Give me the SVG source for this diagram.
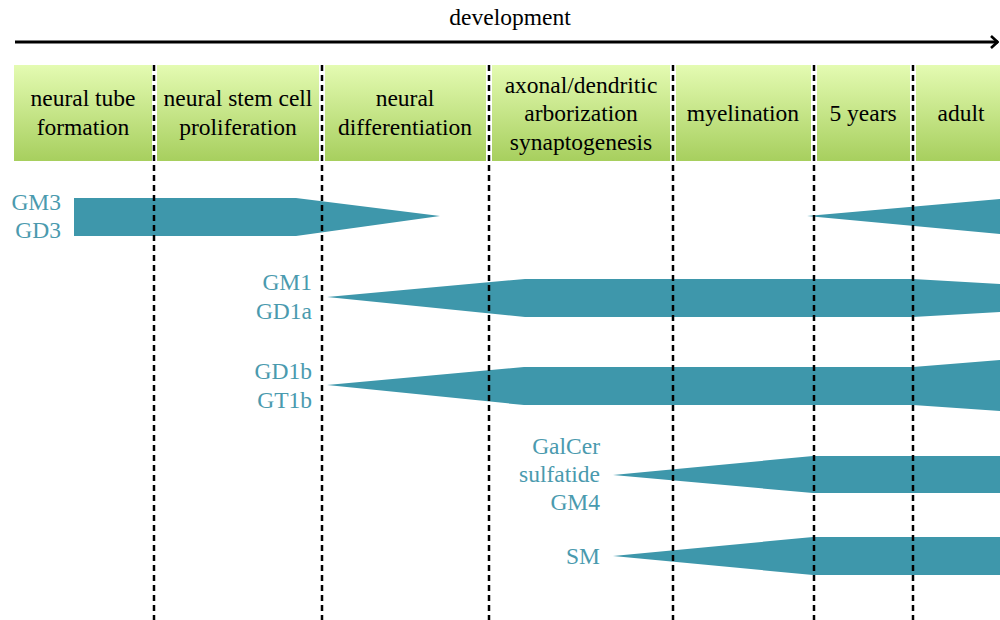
<svg xmlns="http://www.w3.org/2000/svg" width="1000" height="620" viewBox="0 0 1000 620" font-family="Liberation Serif, Times New Roman, serif" font-size="23.5">
<defs>
<linearGradient id="g" x1="0" y1="0" x2="0" y2="1">
<stop offset="0" stop-color="#e4fbb2"/>
<stop offset="1" stop-color="#a7cf5e"/>
</linearGradient>
<marker id="ah" viewBox="0 0 10 14" refX="9" refY="7" markerWidth="10" markerHeight="14" markerUnits="userSpaceOnUse" orient="auto">
<path d="M2 1 L8.5 7 L2 13" fill="none" stroke="#000" stroke-width="2.6"/>
</marker>
</defs>
<style>
.t{fill:#000;text-anchor:middle}
.l{fill:#4a9aae;text-anchor:end}
.cell{fill:url(#g)}
.dash{stroke:#000;stroke-width:2.5;stroke-dasharray:6 4;fill:none}
.bar{fill:#3e97ab}
</style>
<g id="timeline">
<line x1="15" y1="42" x2="998" y2="42" stroke="#000" stroke-width="3" marker-end="url(#ah)"/>
<text class="t" x="510" y="25">development</text>
</g>
<g id="stage-neural-tube">
<rect class="cell" x="14" y="65" width="138" height="96"/>
<text class="t" x="83" y="106">neural tube</text>
<text class="t" x="83" y="135">formation</text>
</g>
<g id="stage-stem-cell">
<rect class="cell" x="157" y="65" width="162" height="96"/>
<text class="t" x="238" y="106">neural stem cell</text>
<text class="t" x="238" y="135">proliferation</text>
</g>
<g id="stage-differentiation">
<rect class="cell" x="325" y="65" width="161" height="96"/>
<text class="t" x="405" y="106">neural</text>
<text class="t" x="405" y="135">differentiation</text>
</g>
<g id="stage-axonal">
<rect class="cell" x="492" y="65" width="178" height="96"/>
<text class="t" x="581" y="93">axonal/dendritic</text>
<text class="t" x="581" y="121">arborization</text>
<text class="t" x="581" y="150">synaptogenesis</text>
</g>
<g id="stage-myelination">
<rect class="cell" x="676" y="65" width="135" height="96"/>
<text class="t" x="743" y="121">myelination</text>
</g>
<g id="stage-5years">
<rect class="cell" x="817" y="65" width="93" height="96"/>
<text class="t" x="863" y="121">5 years</text>
</g>
<g id="stage-adult">
<rect class="cell" x="916" y="65" width="84" height="96"/>
<text class="t" x="961" y="121">adult</text>
</g>
<g id="bar-gm3">
<path class="bar" d="M74 198 L296 198 L440 216 L296 236 L74 236 Z"/>
<path class="bar" d="M807 216 L1000 199 L1000 234 Z"/>
<text class="l" x="61" y="210">GM3</text>
<text class="l" x="61" y="238">GD3</text>
</g>
<g id="bar-gm1">
<path class="bar" d="M327 297 L525 279 L913 279 L1000 284 L1000 312 L913 317 L525 317 Z"/>
<text class="l" x="312" y="290">GM1</text>
<text class="l" x="312" y="319">GD1a</text>
</g>
<g id="bar-gd1b">
<path class="bar" d="M327 385 L524 367 L913 367 L1000 360 L1000 411 L913 405 L524 405 Z"/>
<text class="l" x="312" y="379">GD1b</text>
<text class="l" x="312" y="408">GT1b</text>
</g>
<g id="bar-galcer">
<path class="bar" d="M613 475 L813 456 L1000 456 L1000 493 L813 493 Z"/>
<text class="l" x="600" y="454">GalCer</text>
<text class="l" x="600" y="482">sulfatide</text>
<text class="l" x="600" y="510">GM4</text>
</g>
<g id="bar-sm">
<path class="bar" d="M613 556 L813 537 L1000 537 L1000 575 L813 575 Z"/>
<text class="l" x="600" y="564">SM</text>
</g>
<g id="connectors">
<line class="dash" x1="154" y1="65" x2="154" y2="620"/>
<line class="dash" x1="322" y1="65" x2="322" y2="620"/>
<line class="dash" x1="489" y1="65" x2="489" y2="620"/>
<line class="dash" x1="673" y1="65" x2="673" y2="620"/>
<line class="dash" x1="814" y1="65" x2="814" y2="620"/>
<line class="dash" x1="913" y1="65" x2="913" y2="620"/>
</g>
</svg>
